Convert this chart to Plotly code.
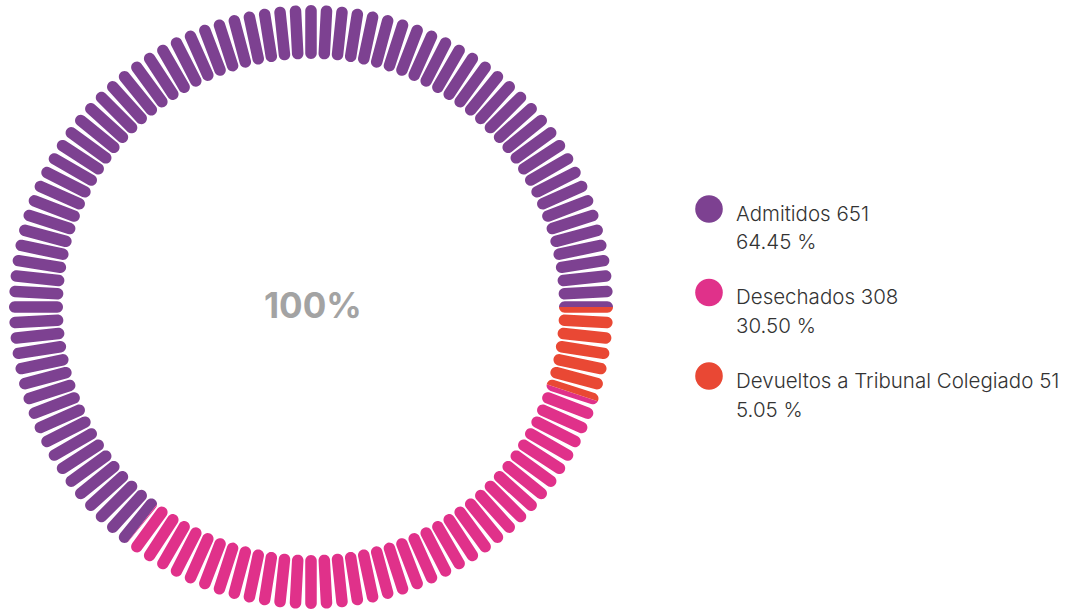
import math
import plotly.graph_objects as go

# ---- data ----
labels = ["Admitidos", "Desechados", "Devueltos a Tribunal Colegiado"]
values = [651, 308, 51]
percent_labels = ["64.45", "30.50", "5.05"]
colors = ["#7D4191", "#E0318A", "#E94834"]
center_label = "100%"

# ---- geometry (pixels; body margin removed by post_script) ----
W, H = 1071, 613
CX, CY = 311, 307
PIE_R = 305
HOLE_R = 244
N_TICKS = 120
TICK_IN, TICK_OUT = 248, 302
TICK_W = 11.5


def to_paper(px, py):
    return px / W, 1 - py / H


def fmt(px, py):
    x, y = to_paper(px, py)
    return f"{x:.5f},{y:.5f}"


total = sum(values)
# counterclockwise pie: rotation is the boundary between slice 1 and slice 2;
# place the end of slice 1 at 3 o'clock
rotation = 90 + 360 * sum(values[1:]) / total

fig = go.Figure()
dx0, _ = to_paper(CX - PIE_R, 0)
dx1, _ = to_paper(CX + PIE_R, 0)
_, dy0 = to_paper(0, CY + PIE_R)
_, dy1 = to_paper(0, CY - PIE_R)
fig.add_trace(go.Pie(
    labels=labels, values=values, sort=False,
    direction="counterclockwise", rotation=rotation,
    hole=HOLE_R / PIE_R,
    marker=dict(colors=colors, line=dict(width=0)),
    textinfo="none", showlegend=False, hoverinfo="label+value+percent",
    domain=dict(x=[max(dx0, 0), min(dx1, 1)], y=[max(dy0, 0), min(dy1, 1)]),
))

# ---- mask: white annulus with capsule-shaped holes (evenodd) ----
parts = []


def circle_poly(r, n=360):
    pts = []
    for k in range(n):
        a = 2 * math.pi * k / n
        pts.append(fmt(CX + r * math.sin(a), CY - r * math.cos(a)))
    return "M" + "L".join(pts) + "Z"


parts.append(circle_poly(330))
parts.append(circle_poly(HOLE_R - 2))

h = TICK_W / 2
r1, r2 = TICK_IN + h, TICK_OUT - h
for k in range(N_TICKS):
    th = 2 * math.pi * k / N_TICKS
    ux, uy = math.sin(th), -math.cos(th)
    vx, vy = math.cos(th), math.sin(th)
    p1 = (CX + ux * r1, CY + uy * r1)
    p2 = (CX + ux * r2, CY + uy * r2)
    pts = []
    seg = 14
    for s in range(seg + 1):
        phi = math.pi * s / seg
        ex = vx * math.cos(phi) + ux * math.sin(phi)
        ey = vy * math.cos(phi) + uy * math.sin(phi)
        pts.append(fmt(p2[0] + h * ex, p2[1] + h * ey))
    for s in range(seg + 1):
        phi = math.pi * s / seg
        ex = -vx * math.cos(phi) - ux * math.sin(phi)
        ey = -vy * math.cos(phi) - uy * math.sin(phi)
        pts.append(fmt(p1[0] + h * ex, p1[1] + h * ey))
    parts.append("M" + "L".join(pts) + "Z")

shapes = [dict(type="path", path="".join(parts), xref="paper", yref="paper",
               fillcolor="white", line=dict(width=0), layer="above",
               fillrule="evenodd")]

# ---- center label ----
cx_p, cy_p = to_paper(313, 305)
annotations = [dict(text=f"<b>{center_label}</b>", x=cx_p, y=cy_p,
                    xref="paper", yref="paper", showarrow=False,
                    xanchor="center", yanchor="middle",
                    font=dict(family="Inter", size=35, color="#A3A3A3"))]

# ---- legend (circles + text) ----
LEG_X, LEG_TX, LEG_Y0, LEG_DY, LEG_R = 709, 734, 209, 83.5, 13.8
TXT = dict(family="Inter", size=20.5, color="#333333", weight=300)
for i, (lab, val, pct, col) in enumerate(zip(labels, values, percent_labels, colors)):
    cy = LEG_Y0 + i * LEG_DY
    x0, y0 = to_paper(LEG_X - LEG_R, cy + LEG_R)
    x1, y1 = to_paper(LEG_X + LEG_R, cy - LEG_R)
    shapes.append(dict(type="circle", xref="paper", yref="paper",
                       x0=x0, y0=y0, x1=x1, y1=y1, fillcolor=col,
                       line=dict(width=0), layer="above"))
    tx, ty = to_paper(LEG_TX, cy + 4)
    annotations.append(dict(text=f"{lab} {val}", x=tx, y=ty, xref="paper", yref="paper",
                            showarrow=False, xanchor="left", yanchor="middle", font=TXT))
    tx, ty = to_paper(LEG_TX, cy + 33)
    annotations.append(dict(text=f"{pct} %", x=tx, y=ty, xref="paper", yref="paper",
                            showarrow=False, xanchor="left", yanchor="middle", font=TXT))

fig.update_layout(
    width=W, height=H, margin=dict(l=0, r=0, t=0, b=0),
    paper_bgcolor="white", plot_bgcolor="white",
    shapes=shapes, annotations=annotations, showlegend=False,
)
fig.write_html("out.html", config={"displayModeBar": False},
               post_script="document.body.style.margin='0';document.body.style.overflow='hidden';")
